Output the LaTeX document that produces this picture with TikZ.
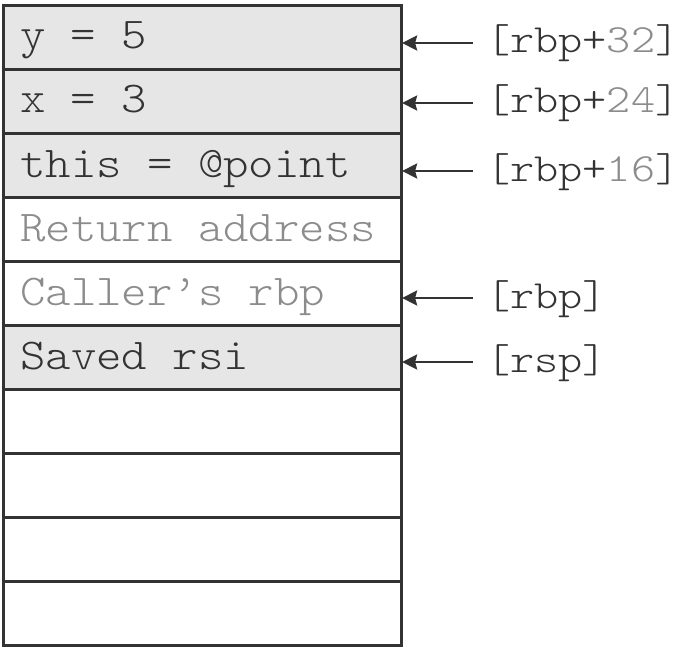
\documentclass[tikz,border=0pt]{standalone}
\usepackage{fontspec}
\setmonofont[FakeStretch=1.1]{Latin Modern Mono Light}
\newfontfamily\lblfont[FakeStretch=1.15]{Latin Modern Mono Light}
\usetikzlibrary{arrows.meta}
\definecolor{cellfill}{HTML}{E6E6E6}
\definecolor{edge}{HTML}{333333}
\definecolor{ink}{HTML}{333333}
\definecolor{dim}{HTML}{8C8C8C}
\tikzset{
  cell/.style={draw=edge, line width=2.6pt, minimum width=398pt, minimum height=64pt, inner sep=0pt, anchor=north west},
  shaded/.style={cell, fill=cellfill},
  celltext/.style={anchor=base west, inner sep=0pt, font=\fontsize{44}{44}\selectfont\ttfamily, text=ink},
  dimtext/.style={celltext, text=dim},
  lbl/.style={anchor=base west, inner sep=0pt, font=\fontsize{40}{40}\selectfont\lblfont, text=ink},
  ptr/.style={draw=edge, line width=2.4pt, -{Stealth[length=15pt,width=15pt,inset=2pt]}, shorten >=-0.5pt}
}
\begin{document}
\begin{tikzpicture}[x=1pt,y=-1pt]
\useasboundingbox (0,0) rectangle (679,647);
\node[shaded] (c1) at (2,4) {};
\node[shaded] (c2) at (2,68) {};
\node[shaded] (c3) at (2,132) {};
\node[cell] (c4) at (2,196) {};
\node[cell] (c5) at (2,260) {};
\node[shaded] (c6) at (2,324) {};
\node[cell] (c7) at (2,388) {};
\node[cell] (c8) at (2,452) {};
\node[cell] (c9) at (2,516) {};
\node[cell] (c10) at (2,580) {};
\node[celltext] (t1) at (20,49) {y = 5};
\node[celltext] (t2) at (20,113) {x = 3};
\node[celltext] (t3) at (20,177) {this = @point};
\node[dimtext] (t4) at (20,241) {Return address};
\node[dimtext] (t5) at (20,305) {Caller’s rbp};
\node[celltext] (t6) at (20,369) {Saved rsi};
\node[lbl] (l1) at (486,53) {[rbp+\textcolor{dim}{32}]};
\node[lbl] (l2) at (486,113) {[rbp+\textcolor{dim}{24}]};
\node[lbl] (l3) at (486,181) {[rbp+\textcolor{dim}{16}]};
\node[lbl] (l5) at (486,308) {[rbp]};
\node[lbl] (l6) at (486,372) {[rsp]};
\coordinate (a1) at (473,43);
\coordinate (a2) at (473,103);
\coordinate (a3) at (473,171);
\coordinate (a5) at (473,298);
\coordinate (a6) at (473,362);
\draw[ptr] (a1) -- (a1 -| c1.east);
\draw[ptr] (a2) -- (a2 -| c2.east);
\draw[ptr] (a3) -- (a3 -| c3.east);
\draw[ptr] (a5) -- (a5 -| c5.east);
\draw[ptr] (a6) -- (a6 -| c6.east);
\end{tikzpicture}
\end{document}
